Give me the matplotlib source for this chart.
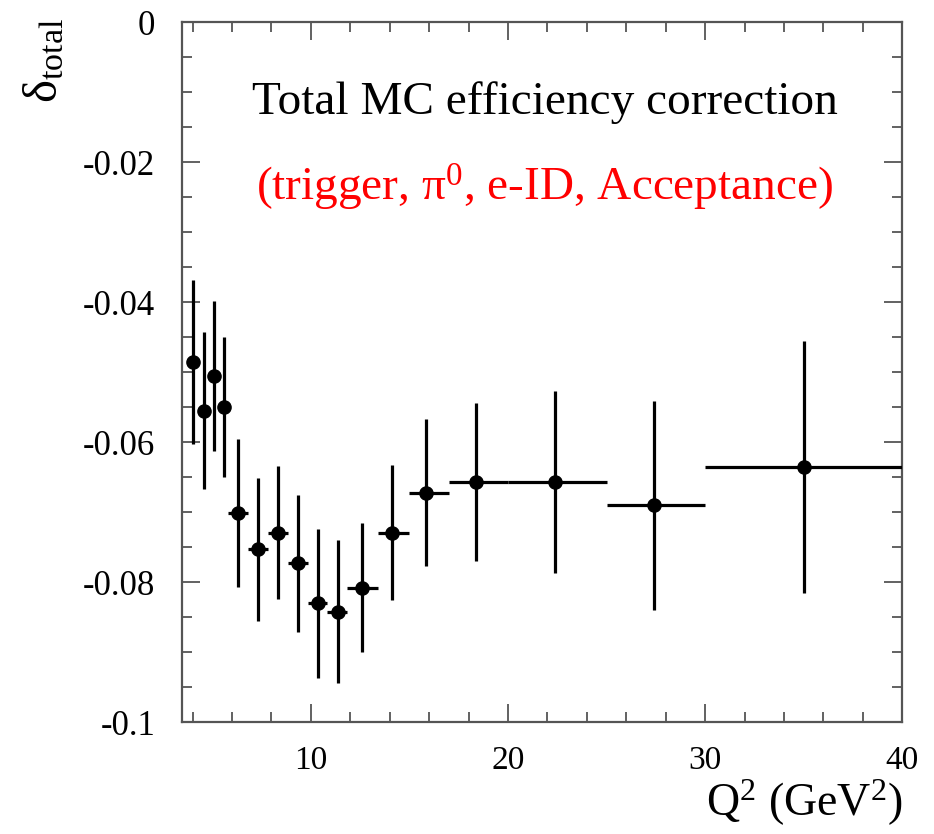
import numpy as np
import matplotlib
matplotlib.use('Agg')
import matplotlib.pyplot as plt
from matplotlib.ticker import MultipleLocator, FuncFormatter

##Serif fonts everywhere, math text in the same family
plt.rcParams['font.family'] = ['Liberation Serif', 'DejaVu Serif']
plt.rcParams['mathtext.fontset'] = 'custom'
plt.rcParams['mathtext.rm'] = 'Liberation Serif'
plt.rcParams['mathtext.it'] = 'Liberation Serif:italic'

##Q^2 bin centres and the bin edges (GeV^2)
q2 = [4.05, 4.6, 5.07, 5.58, 6.31, 7.31, 8.32, 9.34, 10.36, 11.37,
      12.61, 14.13, 15.86, 18.37, 22.39, 27.42, 35.0]
q2_lo = [3.8, 4.3, 4.85, 5.3, 5.8, 6.8, 7.82, 8.84, 9.88, 10.83,
         11.85, 13.4, 15.0, 17.0, 20.0, 25.0, 30.0]
q2_hi = [4.3, 4.85, 5.3, 5.8, 6.8, 7.82, 8.84, 9.88, 10.83, 11.85,
         13.4, 15.0, 17.0, 20.0, 25.0, 30.0, 40.0]

##Total efficiency correction and its error
delta = [-0.0486, -0.0555, -0.0506, -0.0550, -0.0701, -0.0753, -0.0729,
         -0.0773, -0.0830, -0.0842, -0.0808, -0.0729, -0.0672, -0.0657,
         -0.0657, -0.0690, -0.0636]
delta_err = [0.0117, 0.0112, 0.0107, 0.0100, 0.0106, 0.0102, 0.0095,
             0.0098, 0.0106, 0.0102, 0.0092, 0.0096, 0.0105, 0.0113,
             0.0130, 0.0149, 0.0180]

x = np.array(q2)
xerr = [x - np.array(q2_lo), np.array(q2_hi) - x]

fig = plt.figure(figsize=(9.34, 8.34), dpi=100)
ax = fig.add_axes([0.1945, 0.1339, 0.7716, 0.8397])

ax.errorbar(x, delta, xerr=xerr, yerr=delta_err, fmt='o', color='black',
            ms=9.5, elinewidth=2.3, capsize=0, zorder=3)

ax.set_xlim(3.45, 40)
ax.set_ylim(-0.1, 0)

##ROOT-like frame: ticks inside on every side
for s in ax.spines.values():
    s.set_color('#555555')
    s.set_linewidth(1.6)
ax.xaxis.set_major_locator(MultipleLocator(10))
ax.xaxis.set_minor_locator(MultipleLocator(2))
ax.yaxis.set_major_locator(MultipleLocator(0.02))
ax.yaxis.set_minor_locator(MultipleLocator(0.005))
ax.tick_params(which='both', direction='in', top=True, right=True,
               color='#555555', width=1.3)
ax.tick_params(which='major', length=13)
ax.tick_params(which='minor', length=7)
ax.tick_params(axis='x', which='major', pad=17, labelsize=24)
ax.tick_params(axis='y', which='major', pad=19, labelsize=25)
ax.yaxis.set_major_formatter(FuncFormatter(lambda v, p: '0' if abs(v) < 1e-9 else f'{v:g}'))

##Annotation text inside the frame
ax.text(0.504, 0.885, 'Total MC efficiency correction', transform=ax.transAxes,
        ha='center', va='center', fontsize=34, color='black')
ax.text(0.504, 0.763, r'(trigger, $\mathrm{\pi}^{0}$, e-ID, Acceptance)',
        transform=ax.transAxes, ha='center', va='center', fontsize=34, color='red')

##Axis titles
fig.text(0.048, 0.928, r'$\mathrm{\delta}_{\mathrm{total}}$', rotation=90,
         ha='center', va='center', fontsize=35)
fig.text(0.967, 0.037, r'Q$^{2}$ (GeV$^{2}$)', ha='right', va='center', fontsize=33)

plt.savefig('out.png', dpi=100)
